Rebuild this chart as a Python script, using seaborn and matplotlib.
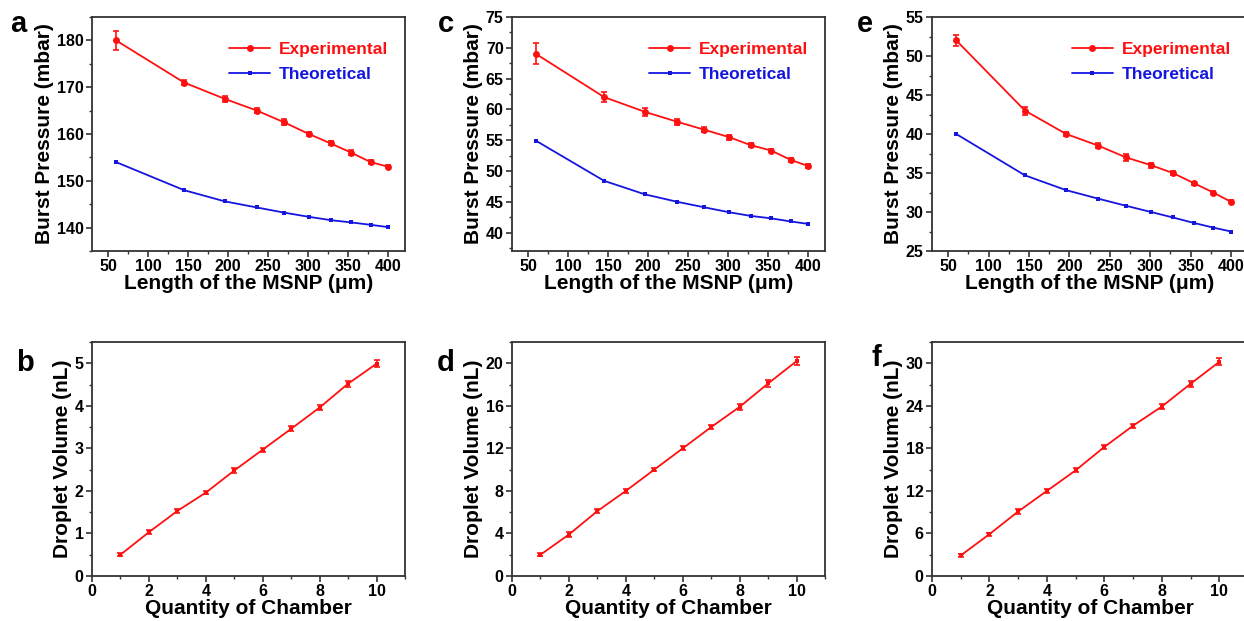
import numpy as np
import pandas as pd
import seaborn as sns
import matplotlib.pyplot as plt
from matplotlib.ticker import MultipleLocator

sns.set_theme(style="ticks")
plt.rcParams['font.family'] = ['Liberation Sans', 'DejaVu Sans']
plt.rcParams['font.weight'] = 'bold'
plt.rcParams['axes.labelweight'] = 'bold'
plt.rcParams['text.color'] = 'black'
plt.rcParams['axes.labelcolor'] = 'black'
plt.rcParams['xtick.labelcolor'] = 'black'
plt.rcParams['ytick.labelcolor'] = 'black'

# MSNP length (um) for the burst pressure panels
length = [60, 145, 196, 236, 270, 301, 328, 354, 378, 400]

a_exp = [180, 171, 167.5, 165, 162.5, 160, 158, 156, 154, 153]
a_exp_err = [2.0, 0.6, 0.6, 0.5, 0.6, 0.4, 0.4, 0.5, 0.4, 0.3]
a_theo = [154, 148, 145.6, 144.3, 143.2, 142.3, 141.6, 141.1, 140.6, 140.1]

c_exp = [69.0, 62.0, 59.6, 58.0, 56.7, 55.5, 54.2, 53.3, 51.8, 50.8]
c_exp_err = [1.7, 0.8, 0.6, 0.5, 0.4, 0.4, 0.3, 0.3, 0.3, 0.4]
c_theo = [54.9, 48.4, 46.2, 45.0, 44.1, 43.3, 42.7, 42.3, 41.8, 41.4]

e_exp = [52.0, 43.0, 40.0, 38.5, 37.0, 36.0, 35.0, 33.7, 32.5, 31.3]
e_exp_err = [0.7, 0.5, 0.3, 0.3, 0.4, 0.3, 0.3, 0.2, 0.2, 0.2]
e_theo = [40.0, 34.7, 32.8, 31.7, 30.8, 30.0, 29.3, 28.6, 28.0, 27.5]

# quantity of chamber for the droplet volume panels
chamber = [1, 2, 3, 4, 5, 6, 7, 8, 9, 10]

b_vol = [0.5, 1.03, 1.53, 1.96, 2.48, 2.97, 3.46, 3.96, 4.52, 4.99]
b_err = [0.03, 0.04, 0.04, 0.04, 0.05, 0.05, 0.06, 0.06, 0.07, 0.08]
d_vol = [2.0, 3.9, 6.1, 8.0, 10.0, 12.0, 14.0, 15.9, 18.1, 20.2]
d_err = [0.15, 0.25, 0.2, 0.2, 0.15, 0.2, 0.2, 0.25, 0.3, 0.4]
f_vol = [2.9, 5.9, 9.1, 12.0, 14.9, 18.2, 21.2, 23.9, 27.1, 30.2]
f_err = [0.2, 0.2, 0.3, 0.3, 0.3, 0.3, 0.3, 0.4, 0.4, 0.5]

RED = '#ff1010'
BLUE = '#1515e0'
SPINE = '#333333'
W, H = 1244, 621

fig = plt.figure(figsize=(W / 100, H / 100), dpi=100)


def make_ax(left, top, width=313, height=234):
    ax = fig.add_axes([left / W, (H - top - height) / H, width / W, height / H])
    for s in ax.spines.values():
        s.set_color(SPINE)
        s.set_linewidth(1.3)
    ax.tick_params(which='major', direction='out', length=4, width=1.2,
                   color=SPINE, labelsize=11.5, pad=2)
    ax.tick_params(which='minor', direction='out', length=2.5, width=1.0, color=SPINE)
    return ax


def pressure_panel(ax, exp, err, theo, ylim, ystep):
    sns.lineplot(x=length, y=exp, ax=ax, color=RED, marker='o', markersize=5,
                 markeredgewidth=0, linewidth=1.3, label='Experimental')
    sns.lineplot(x=length, y=theo, ax=ax, color=BLUE, marker='s', markersize=3,
                 markeredgewidth=0, linewidth=1.3, label='Theoretical')
    ax.errorbar(length, exp, yerr=err, fmt='none', ecolor=RED, elinewidth=1.2,
                capsize=2.5, capthick=1.2)
    ax.set_xlim(30, 421)
    ax.set_ylim(*ylim)
    ax.xaxis.set_major_locator(MultipleLocator(50))
    ax.xaxis.set_minor_locator(MultipleLocator(25))
    ax.yaxis.set_major_locator(MultipleLocator(ystep))
    ax.yaxis.set_minor_locator(MultipleLocator(ystep / 2))
    ax.set_xlabel('Length of the MSNP (\u03bcm)', fontsize=15, labelpad=0)
    ax.set_ylabel('Burst Pressure (mbar)', fontsize=15, labelpad=2)
    leg = ax.legend(loc='upper right', bbox_to_anchor=(0.98, 0.94), frameon=False,
                    prop=dict(weight='bold', size=12.5), handlelength=2.4,
                    handletextpad=0.5, labelspacing=0.6, borderaxespad=0.2)
    for txt, col in zip(leg.get_texts(), [RED, BLUE]):
        txt.set_color(col)


def volume_panel(ax, vol, err, ylim, ystep):
    sns.lineplot(x=chamber, y=vol, ax=ax, color=RED, marker='s', markersize=3.5,
                 markeredgewidth=0, linewidth=1.3)
    ax.errorbar(chamber, vol, yerr=err, fmt='none', ecolor=RED, elinewidth=1.2,
                capsize=2.5, capthick=1.2)
    ax.set_xlim(0, 11)
    ax.set_ylim(*ylim)
    ax.xaxis.set_major_locator(MultipleLocator(2))
    ax.xaxis.set_minor_locator(MultipleLocator(1))
    ax.yaxis.set_major_locator(MultipleLocator(ystep))
    ax.yaxis.set_minor_locator(MultipleLocator(ystep / 2))
    ax.set_xlabel('Quantity of Chamber', fontsize=15, labelpad=0)
    ax.set_ylabel('Droplet Volume (nL)', fontsize=15, labelpad=2)


ax_a = make_ax(92, 17)
pressure_panel(ax_a, a_exp, a_exp_err, a_theo, (135, 185), 10)
ax_c = make_ax(512, 17)
pressure_panel(ax_c, c_exp, c_exp_err, c_theo, (37, 75), 5)
ax_e = make_ax(932, 17, width=316)
pressure_panel(ax_e, e_exp, e_exp_err, e_theo, (25, 55), 5)

ax_b = make_ax(92, 342)
volume_panel(ax_b, b_vol, b_err, (0, 5.5), 1)
ax_d = make_ax(512, 342)
volume_panel(ax_d, d_vol, d_err, (0, 22), 4)
ax_f = make_ax(932, 342, width=316)
volume_panel(ax_f, f_vol, f_err, (0, 33), 6)

for letter, x, y in [('a', 10, 32), ('c', 438, 32), ('e', 857, 32),
                     ('b', 16, 371), ('d', 437, 371), ('f', 871, 366)]:
    fig.text(x / W, 1 - y / H, letter, fontsize=21, fontweight='bold',
             ha='left', va='baseline', color='black')

fig.savefig('out.png', dpi=100)
